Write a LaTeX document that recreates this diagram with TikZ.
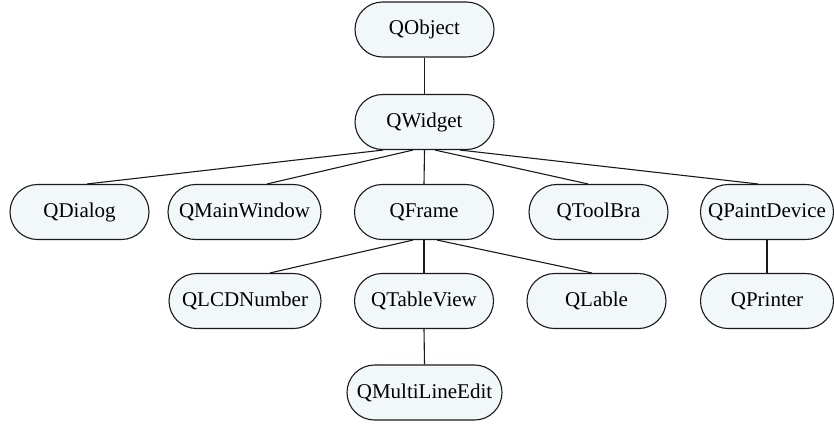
\documentclass[tikz,border=0pt]{standalone}
\usepackage{fontspec}
\setmainfont{Liberation Serif}
\usetikzlibrary{shapes.misc}
\definecolor{boxfill}{HTML}{F2F7FA}
\definecolor{edge}{HTML}{1A1A1A}
\tikzset{
  cls/.style={draw=edge, line width=1.1pt, fill=boxfill, rounded rectangle,
    minimum height=55pt, inner sep=0pt, font=\fontsize{21}{24}\selectfont},
  link/.style={draw=edge, line width=1.1pt}
}
\begin{document}
\begin{tikzpicture}[x=1pt,y=-1pt]
\useasboundingbox (0,0) rectangle (834,424);
\node[cls, minimum width=139pt] (obj) at (424.5,29.5) {QObject};
\node[cls, minimum width=139pt] (w) at (424.5,122) {QWidget};
\node[cls, minimum width=139pt] (dlg) at (79.5,212) {QDialog};
\node[cls, minimum width=153pt] (mw) at (244.5,212) {QMainWindow};
\node[cls, minimum width=139pt] (frame) at (424,212) {QFrame};
\node[cls, minimum width=139pt] (tool) at (598.5,212) {QToolBra};
\node[cls, minimum width=133pt] (paint) at (767,212) {QPaintDevice};
\node[cls, minimum width=152pt] (lcd) at (245,301) {QLCDNumber};
\node[cls, minimum width=139pt] (tv) at (424,301) {QTableView};
\node[cls, minimum width=139pt] (lable) at (596.5,301) {QLable};
\node[cls, minimum width=133pt] (printer) at (767,301) {QPrinter};
\node[cls, minimum width=155pt] (multi) at (424.5,392.5) {QMultiLineEdit};

\draw[link] (obj.south) -- (w.north);
\draw[link] ([xshift=-41.5pt]w.south) -- ([xshift=7.5pt]dlg.north);
\draw[link] ([xshift=-11.5pt]w.south) -- ([xshift=22.5pt]mw.north);
\draw[link] (w.south) -- (frame.north);
\draw[link] ([xshift=10.5pt]w.south) -- ([xshift=-10.5pt]tool.north);
\draw[link] ([xshift=35.5pt]w.south) -- ([xshift=-9pt]paint.north);
\draw[link] ([xshift=-11pt]frame.south) -- ([xshift=25pt]lcd.north);
\draw[link] (frame.south) -- (tv.north);
\draw[link] ([xshift=13pt]frame.south) -- ([xshift=-4.5pt]lable.north);
\draw[link] (paint.south) -- (printer.north);
\draw[link] (tv.south) -- (multi.north);
\end{tikzpicture}
\end{document}
